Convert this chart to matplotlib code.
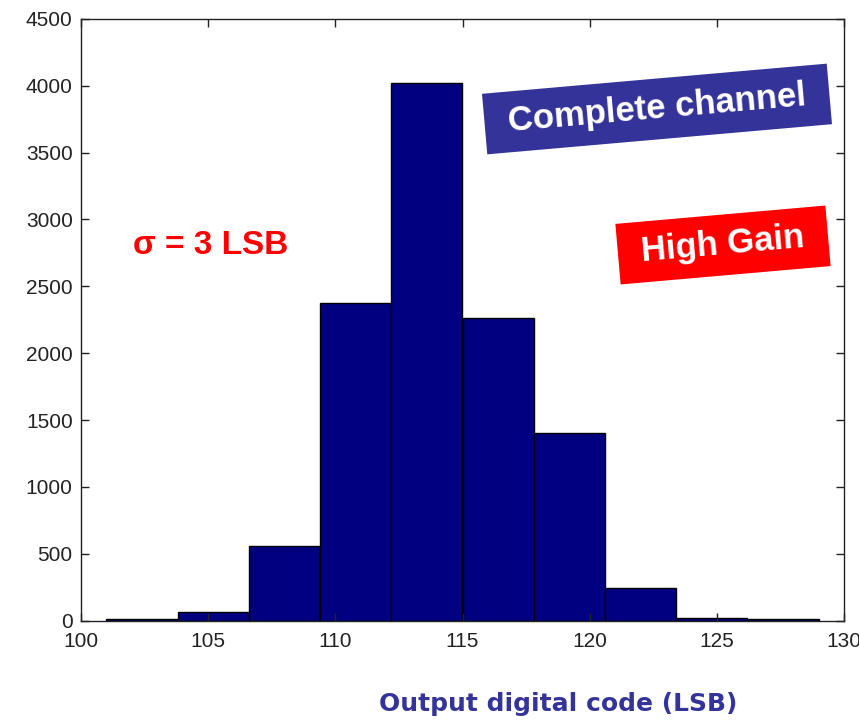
import matplotlib
matplotlib.use("Agg")
import matplotlib.pyplot as plt
import numpy as np

# histogram of output codes (10 bins)
bin_edges = [101.0, 103.8, 106.6, 109.4, 112.2, 115.0, 117.8, 120.6, 123.4, 126.2, 129.0]
counts = [10, 60, 557, 2375, 4020, 2263, 1403, 240, 22, 10]

x_ticks = [100, 105, 110, 115, 120, 125, 130]
y_ticks = [0, 500, 1000, 1500, 2000, 2500, 3000, 3500, 4000, 4500]

plt.rcParams["font.family"] = ["Liberation Sans", "DejaVu Sans"]

W, H = 859, 720
fig = plt.figure(figsize=(W / 100, H / 100), dpi=100)
ax = fig.add_axes([81 / W, 1 - 620.5 / H, (844 - 81) / W, (620.5 - 19) / H])

edges = np.array(bin_edges)
ax.bar(edges[:-1], counts, width=np.diff(edges), align="edge",
       color="#000080", edgecolor="black", linewidth=1.0)

ax.set_xlim(100, 130)
ax.set_ylim(0, 4500)
ax.set_xticks(x_ticks)
ax.set_yticks(y_ticks)
ax.tick_params(direction="in", length=6, width=1, top=True, right=True,
               labelsize=15, colors="#222222")
ax.tick_params(axis="x", pad=8)
ax.tick_params(axis="y", pad=6)
for s in ax.spines.values():
    s.set_linewidth(1.0)
    s.set_color("#222222")

# --- annotations (figure pixel coords) ---
def px(x, y):
    return x / W, 1 - y / H

fig.text(*px(657, 109), " Complete channel ", color="white", fontsize=25,
         fontweight="bold", rotation=5, rotation_mode="anchor",
         ha="center", va="center",
         bbox=dict(boxstyle="square,pad=0.4", fc="#333399", ec="none"))
fig.text(*px(723, 245), " High Gain ", color="white", fontsize=25,
         fontweight="bold", rotation=5, rotation_mode="anchor",
         ha="center", va="center",
         bbox=dict(boxstyle="square,pad=0.4", fc="#ff0000", ec="none"))
fig.text(*px(211, 246), "σ = 3 LSB", color="#ff0000", fontsize=24,
         fontweight="bold", ha="center", va="center")

fig.text(*px(558, 704), "Output digital code (LSB)", color="#333399",
         fontsize=18, fontweight="bold", family="DejaVu Sans",
         ha="center", va="center")

fig.savefig("out.png", dpi=100)
